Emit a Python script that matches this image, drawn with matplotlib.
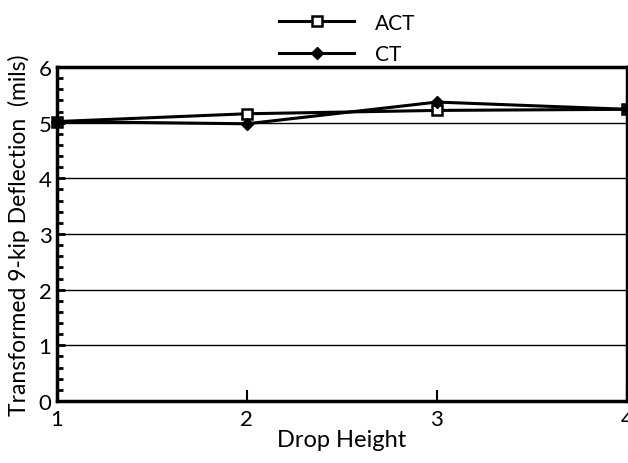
import matplotlib
matplotlib.use("Agg")
import matplotlib.pyplot as plt
from matplotlib.ticker import MultipleLocator

drop_height = [1, 2, 3, 4]
act = [5.02, 5.16, 5.22, 5.24]
ct = [5.02, 4.98, 5.37, 5.24]
x_ticks = [1, 2, 3, 4]
y_ticks = [0, 1, 2, 3, 4, 5, 6]

plt.rcParams['font.family'] = ['Lato', 'DejaVu Sans']
fig = plt.figure(figsize=(6.28, 4.64), dpi=100)
ax = fig.add_axes([57/628, 1 - 402/464, (628 - 57)/628 - 0.002, (402 - 68)/464])

for y in [1, 2, 3, 4, 5]:
    ax.axhline(y, color='black', lw=1.0, zorder=1)

ax.plot(drop_height, act, color='black', lw=2.2, marker='s', ms=7,
        mfc='white', mec='black', mew=1.8, label='ACT', zorder=3, clip_on=False)
ax.plot(drop_height, ct, color='black', lw=2.2, marker='D', ms=6,
        mfc='black', mec='black', label='CT', zorder=3, clip_on=False)

ax.set_xlim(1, 4)
ax.set_ylim(0, 6)
ax.set_xticks(x_ticks)
ax.set_yticks(y_ticks)
ax.yaxis.set_minor_locator(MultipleLocator(0.2))
ax.tick_params(axis='y', which='major', direction='in', length=6, width=2, labelsize=16, pad=4)
ax.tick_params(axis='y', which='minor', direction='in', length=4, width=2)
ax.tick_params(axis='x', which='major', direction='in', length=8, width=1.5, labelsize=16, pad=6)
for s in ['left', 'bottom', 'top', 'right']:
    ax.spines[s].set_linewidth(2.5)

ax.set_xlabel('Drop Height', fontsize=17, labelpad=0)
ax.set_ylabel('Transformed 9-kip Deflection  (mils)', fontsize=16.5, labelpad=6)

leg = ax.legend(loc='lower center', bbox_to_anchor=(0.51, 0.965), frameon=False,
                fontsize=15, handlelength=3.6, handletextpad=1.0, labelspacing=0.55,
                borderpad=0.2)

fig.savefig('out.png', dpi=100)
